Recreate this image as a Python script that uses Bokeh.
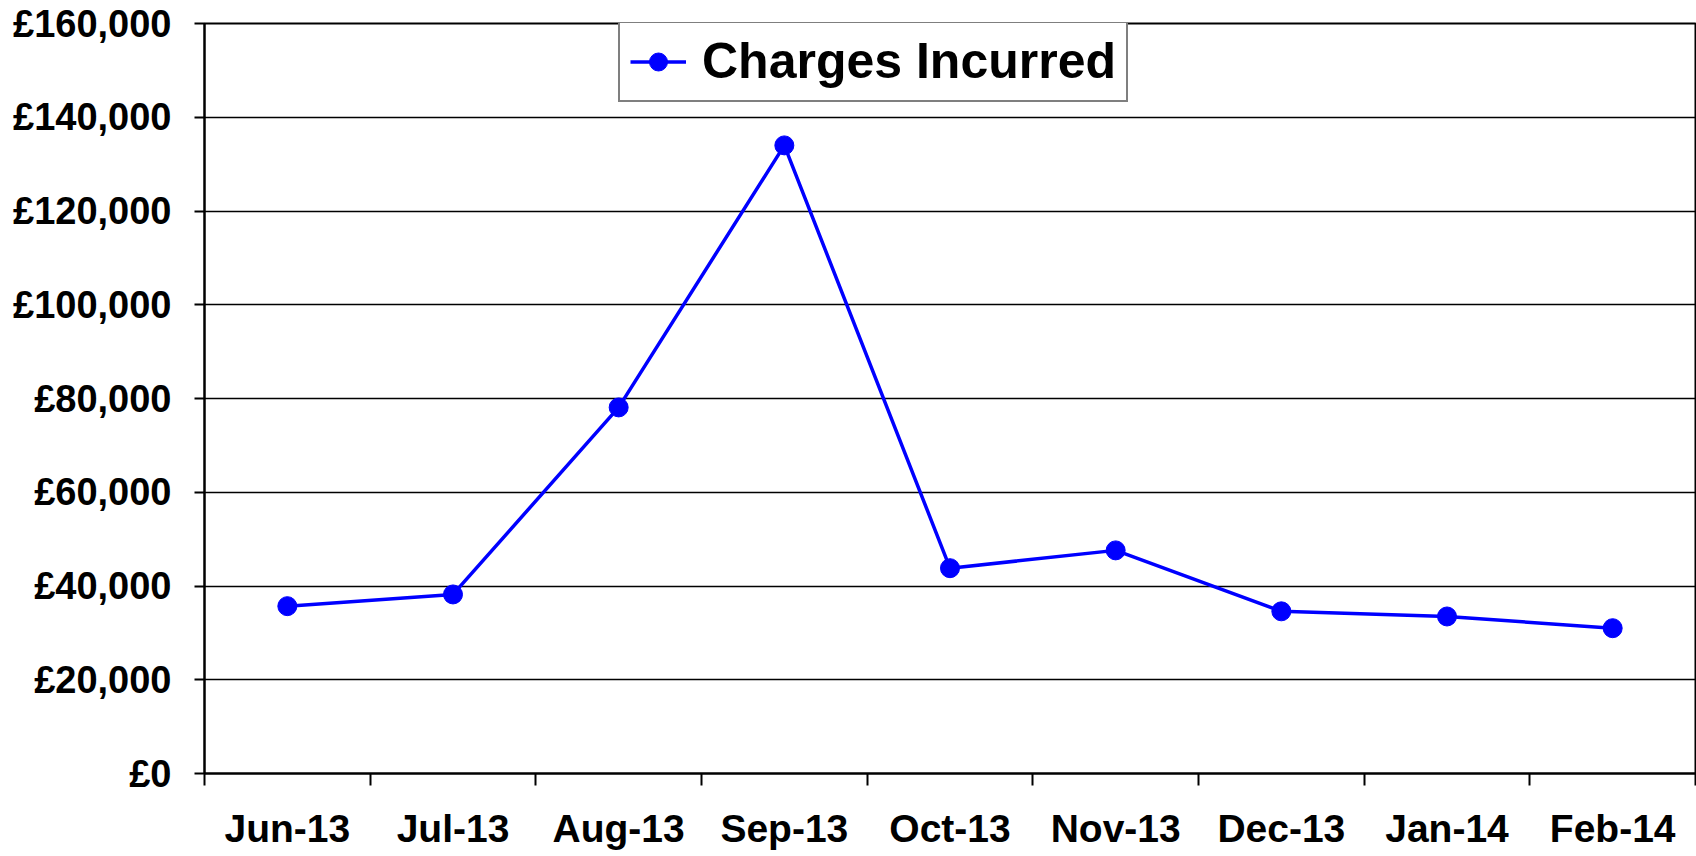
from bokeh.plotting import figure
from bokeh.models import FixedTicker, Legend, LegendItem, Range1d
from bokeh.embed import file_html
from bokeh.resources import INLINE

categories = ["Jun-13", "Jul-13", "Aug-13", "Sep-13", "Oct-13", "Nov-13", "Dec-13", "Jan-14", "Feb-14"]
charges = [35700, 38200, 78100, 134000, 43800, 47600, 34600, 33500, 31000]
y_ticks = [0, 20000, 40000, 60000, 80000, 100000, 120000, 140000, 160000]
y_tick_labels = ["£0", "£20,000", "£40,000", "£60,000", "£80,000", "£100,000", "£120,000", "£140,000", "£160,000"]
series_name = "Charges Incurred"

FONT = "Liberation Sans"
n = len(categories)
xs = [i + 0.5 for i in range(n)]

p = figure(width=1696, height=856, output_backend="svg", toolbar_location=None,
           x_range=Range1d(0, n), y_range=Range1d(0, 160000),
           min_border_left=204, min_border_right=1, min_border_top=23, min_border_bottom=83)
p.background_fill_color = "white"
p.border_fill_color = "white"
p.outline_line_color = "black"
p.outline_line_width = 2

line = p.line(xs, charges, line_color="#0000FF", line_width=3.5)
pts = p.scatter(xs, charges, size=19, marker="circle", fill_color="#0000FF", line_color="#0000FF")

# x axis
p.xaxis.ticker = FixedTicker(ticks=xs, minor_ticks=list(range(n + 1)))
p.xaxis.major_label_overrides = {x: c for x, c in zip(xs, categories)}
p.xaxis.major_tick_line_color = None
p.xaxis.major_tick_out = 12
p.xaxis.major_tick_in = 0
p.xaxis.minor_tick_line_color = "black"
p.xaxis.minor_tick_line_width = 2
p.xaxis.minor_tick_out = 12
p.xaxis.minor_tick_in = 0
p.xaxis.axis_line_color = "black"
p.xaxis.axis_line_width = 2
p.xaxis.major_label_standoff = 21
p.xaxis.major_label_text_font = FONT
p.xaxis.major_label_text_font_style = "bold"
p.xaxis.major_label_text_font_size = "39px"
p.xaxis.major_label_text_color = "black"
p.xgrid.grid_line_color = None

# y axis
p.yaxis.ticker = FixedTicker(ticks=y_ticks, minor_ticks=[])
p.yaxis.major_label_overrides = {v: s for v, s in zip(y_ticks, y_tick_labels)}
p.yaxis.major_tick_out = 10
p.yaxis.major_tick_in = 0
p.yaxis.major_tick_line_color = "black"
p.yaxis.major_tick_line_width = 2
p.yaxis.axis_line_color = "black"
p.yaxis.axis_line_width = 2
p.yaxis.major_label_standoff = 23
p.yaxis.major_label_text_font = FONT
p.yaxis.major_label_text_font_style = "bold"
p.yaxis.major_label_text_font_size = "38px"
p.yaxis.major_label_text_color = "black"
p.ygrid.grid_line_color = "black"
p.ygrid.grid_line_width = 1.5

legend = Legend(items=[LegendItem(label=series_name, renderers=[line, pts])],
                location=(414, 671))
legend.label_text_font = FONT
legend.label_text_font_style = "bold"
legend.label_text_font_size = "50px"
legend.label_text_color = "black"
legend.border_line_color = "black"
legend.border_line_width = 2
legend.background_fill_alpha = 1
legend.padding = 10
legend.margin = 0
legend.glyph_width = 56
legend.glyph_height = 45
legend.label_standoff = 16
legend.spacing = 0
p.add_layout(legend)

open("out.html", "w").write(file_html(p, INLINE))
